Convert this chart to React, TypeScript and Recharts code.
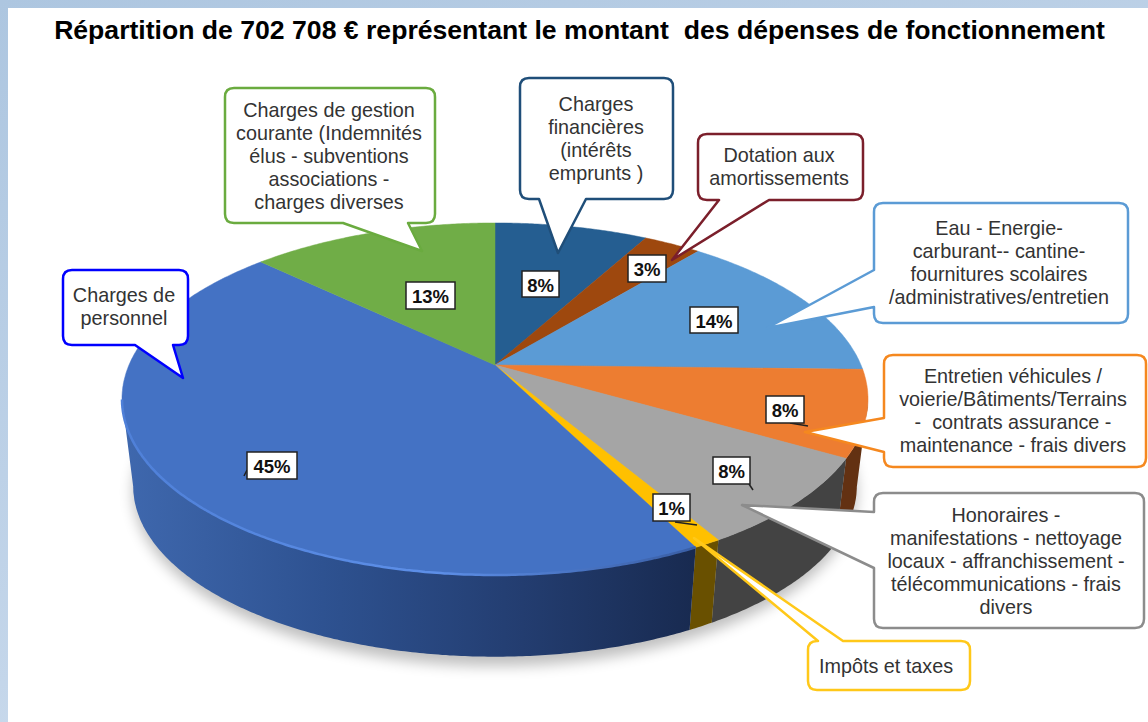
import { PieChart, Pie } from 'recharts';

const categories = [
  'Charges financières',
  'Dotation aux amortissements',
  'Eau - Energie',
  'Entretien véhicules',
  'Honoraires',
  'Impôts et taxes',
  'Charges de personnel',
  'Charges de gestion courante',
];
const shares = [8.0, 3.0, 14.4, 7.9, 8.2, 1.0, 44.6, 12.9];

const calloutLines = [
  ['Charges', 'financières', '(intérêts', 'emprunts )'],
  ['Dotation aux', 'amortissements'],
  ['Eau - Energie-', 'carburant-- cantine-', 'fournitures scolaires', '/administratives/entretien'],
  ['Entretien véhicules /', 'voierie/Bâtiments/Terrains', '-  contrats assurance -', 'maintenance - frais divers'],
  ['Honoraires -', 'manifestations - nettoyage', 'locaux - affranchissement -', 'télécommunications - frais', 'divers'],
  ['Impôts et taxes'],
  ['Charges de', 'personnel'],
  ['Charges de gestion', 'courante (Indemnités', 'élus - subventions', 'associations -', 'charges diverses'],
];

const TOP_COLORS = ['#255E91', '#9E480E', '#5B9BD5', '#ED7D31', '#A5A5A5', '#FFC000', '#4472C4', '#70AD47'];
const SIDE_COLORS = ['#163a5a', '#5f2b08', '#37608a', '#633112', '#434343', '#695000', 'url(#blueSide)', '#43692b'];
const BORDER_COLORS = ['#1F4E79', '#7B1F2B', '#5B9BD5', '#F5881F', '#8C8C8C', '#FFC819', '#0000FF', '#6AAB3F'];

// callout boxes: box, text centre, first line centre, tail
const CALLOUTS = [
  { x: 520, y: 78, w: 153, h: 121, tx: 596, ty: 104, side: 'bottom', a: 539, b: 586, tipX: 558, tipY: 253 },
  { x: 698, y: 134, w: 165, h: 66, tx: 779, ty: 155, side: 'bottom', a: 719, b: 769, tipX: 672, tipY: 260 },
  { x: 874, y: 203, w: 254, h: 120, tx: 999, ty: 228, side: 'left', a: 270, b: 307, tipX: 767, tipY: 328 },
  { x: 884, y: 355, w: 262, h: 112, tx: 1013, ty: 376, side: 'left', a: 418, b: 452, tipX: 805, tipY: 432 },
  { x: 874, y: 493, w: 270, h: 135, tx: 1006, ty: 515, side: 'left', a: 512, b: 568, tipX: 742, tipY: 505 },
  { x: 808, y: 641, w: 162, h: 49, tx: 886, ty: 666, side: 'top', a: 818, b: 843, tipX: 694, tipY: 538 },
  { x: 63, y: 270, w: 125, h: 75, tx: 124, ty: 295, side: 'bottom', a: 135, b: 173, tipX: 183, tipY: 378 },
  { x: 225, y: 88, w: 210, h: 135, tx: 329, ty: 110, side: 'bottom', a: 343, b: 408, tipX: 422, tipY: 251 },
];

// percent tags, with the small leader stub some of them have
const TAGS: any[] = [
  { x: 522, y: 271, w: 37, h: 26 },
  { x: 628, y: 255, w: 38, h: 27 },
  { x: 690, y: 307, w: 48, h: 26 },
  { x: 766, y: 396, w: 38, h: 27, stub: 'M790,423 L808,426' },
  { x: 713, y: 457, w: 37, h: 27, stub: 'M749,484 L753,490' },
  { x: 653, y: 494, w: 37, h: 27, stub: 'M675,522 L697,525' },
  { x: 247, y: 452, w: 50, h: 27, stub: 'M247,470 L244,476' },
  { x: 406, y: 282, w: 49, h: 27 },
];

const tableData = categories.map((name, i) => ({ name, value: shares[i] }));

const FONT = '"Liberation Sans", Arial, sans-serif';

// perspective of the disc: squash and how much the far side shrinks
const SQUASH = 0.463;
const TILT = 0.193;
const ELLIPSE_CY = 399;
const DEPTH = 87;
const BASE_SCALE = 0.97;

function project(cx: number, cy: number, r: number, angle: number) {
  const t = ((90 - angle) * Math.PI) / 180;
  const x = Math.sin(t);
  const y = -Math.cos(t);
  const d = 1 - TILT * y;
  return { x: cx + (r * x) / d, y: cy + (r * SQUASH * y) / d };
}

function arcPoints(p: any) {
  const pts = [];
  const steps = Math.max(2, Math.ceil(Math.abs(p.endAngle - p.startAngle) * 2));
  for (let i = 0; i <= steps; i++) {
    const a = p.startAngle + ((p.endAngle - p.startAngle) * i) / steps;
    pts.push(project(p.cx, p.cy, p.outerRadius, a));
  }
  return pts;
}

const toPath = (pts: { x: number; y: number }[]) =>
  pts.map((q, i) => `${i === 0 ? 'M' : 'L'}${q.x.toFixed(1)},${q.y.toFixed(1)}`).join(' ');

function TopSlice(props: any) {
  const pts = arcPoints(props);
  const i = props.index ?? categories.indexOf(props.name);
  return (
    <g>
      <path d={`M${props.cx},${props.cy} ${toPath(pts).replace('M', 'L')} Z`} fill={TOP_COLORS[i]} stroke={TOP_COLORS[i]} strokeWidth={0.5} />
      {i === 6 && <path d={toPath(pts.filter((q) => q.y > ELLIPSE_CY))} fill="none" stroke="url(#blueRim)" strokeWidth={2.5} />}
    </g>
  );
}

function SideSlice(props: any) {
  const i = props.index ?? categories.indexOf(props.name);
  const front = arcPoints(props).filter((q) => q.y >= ELLIPSE_CY);
  if (front.length < 2) return null;
  const base = front
    .map((q) => ({
      x: props.cx + (q.x - props.cx) * BASE_SCALE,
      y: ELLIPSE_CY + (q.y - ELLIPSE_CY) * BASE_SCALE + DEPTH,
    }))
    .reverse();
  return <path d={`${toPath(front)} ${toPath(base).replace('M', 'L')} Z`} fill={SIDE_COLORS[i]} stroke="none" />;
}

function calloutPath(c: any) {
  const r = 9;
  const R = c.x + c.w;
  const B = c.y + c.h;
  const tip = `L${c.tipX},${c.tipY}`;
  let d = `M${c.x + r},${c.y}`;
  if (c.side === 'top') d += ` L${c.a},${c.y} ${tip} L${c.b},${c.y}`;
  d += ` L${R - r},${c.y} Q${R},${c.y} ${R},${c.y + r} L${R},${B - r} Q${R},${B} ${R - r},${B}`;
  if (c.side === 'bottom') d += ` L${c.b},${B} ${tip} L${c.a},${B}`;
  d += ` L${c.x + r},${B} Q${c.x},${B} ${c.x},${B - r}`;
  if (c.side === 'left') d += ` L${c.x},${c.b} ${tip} L${c.x},${c.a}`;
  d += ` L${c.x},${c.y + r} Q${c.x},${c.y} ${c.x + r},${c.y} Z`;
  return d;
}

function renderLabel(props: any) {
  const i = props.index;
  const c = CALLOUTS[i];
  const t = TAGS[i];
  return (
    <g key={categories[i]}>
      <path d={calloutPath(c)} fill="#fff" stroke={BORDER_COLORS[i]} strokeWidth={2.5} strokeLinejoin="round" />
      {calloutLines[i].map((line, j) => (
        <text key={j} x={c.tx} y={c.ty + j * 23} textAnchor="middle" dominantBaseline="central" fontFamily={FONT} fontSize={19.8} fill="#333" style={{ whiteSpace: 'pre' }}>
          {line}
        </text>
      ))}
      {t.stub && <path d={t.stub} fill="none" stroke="#222" strokeWidth={1.5} />}
      <rect x={t.x} y={t.y} width={t.w} height={t.h} fill="#fff" stroke="#222" strokeWidth={1.5} />
      <text x={t.x + t.w / 2} y={t.y + t.h / 2 + 1} textAnchor="middle" dominantBaseline="central" fontFamily={FONT} fontSize={18.5} fontWeight="bold" fill="#111">
        {`${Math.round(shares[i])}%`}
      </text>
    </g>
  );
}

export default function App() {
  return (
    <div style={{ position: 'absolute', left: 0, top: 0, width: 1148, height: 722, background: 'linear-gradient(160deg, #adc6e0 0%, #c4d6ea 60%, #dfe9f4 100%)', overflow: 'hidden' }}>
      <div style={{ position: 'absolute', left: 8, top: 8, width: 1140, height: 714, background: '#fff' }} />
      <div style={{ position: 'absolute', left: 0, top: 0 }}>
        <PieChart width={1148} height={722} margin={{ top: 0, right: 0, bottom: 0, left: 0 }}>
          <defs>
            <linearGradient id="blueSide" gradientUnits="userSpaceOnUse" x1={122} y1={0} x2={695} y2={0}>
              <stop offset="0%" stopColor="#3F68AE" />
              <stop offset="35%" stopColor="#2E5291" />
              <stop offset="70%" stopColor="#233d70" />
              <stop offset="100%" stopColor="#182a50" />
            </linearGradient>
            <linearGradient id="blueRim" gradientUnits="userSpaceOnUse" x1={122} y1={0} x2={690} y2={0}>
              <stop offset="0%" stopColor="#4f80d8" />
              <stop offset="55%" stopColor="#5d8fe8" />
              <stop offset="100%" stopColor="#3a5fa6" />
            </linearGradient>
            <filter id="pieShadow" x="-10%" y="-10%" width="120%" height="120%">
              <feGaussianBlur stdDeviation="7" />
            </filter>
          </defs>
          <ellipse cx={495} cy={492} rx={362} ry={174} fill="#000" opacity={0.25} filter="url(#pieShadow)" />
          <text x={579.5} y={30} textAnchor="middle" dominantBaseline="central" fontFamily={FONT} fontSize={26.6} fontWeight="bold" fill="#000" style={{ whiteSpace: 'pre' }}>
            Répartition de 702 708 € représentant le montant  des dépenses de fonctionnement
          </text>
          <Pie data={tableData} dataKey="value" nameKey="name" cx={495} cy={365} outerRadius={366} startAngle={90} endAngle={-270} stroke="none" shape={SideSlice} isAnimationActive={false} />
          <Pie data={tableData} dataKey="value" nameKey="name" cx={495} cy={365} outerRadius={366} startAngle={90} endAngle={-270} stroke="none" shape={TopSlice} isAnimationActive={false} />
          <Pie data={tableData} dataKey="value" nameKey="name" cx={495} cy={365} outerRadius={366} startAngle={90} endAngle={-270} stroke="none" shape={() => <g />} label={renderLabel} labelLine={false} isAnimationActive={false} />
        </PieChart>
      </div>
    </div>
  );
}
